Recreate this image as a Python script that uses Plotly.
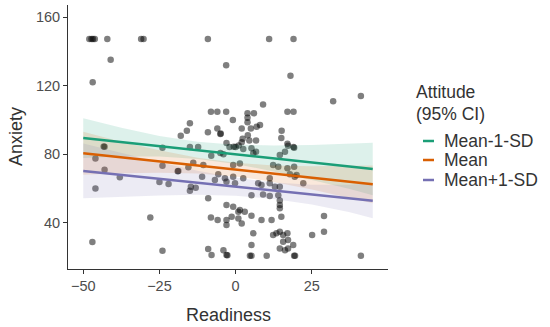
import plotly.graph_objects as go

# ---------------- data ----------------
readiness = [
    -48, -47.3, -46.8, -46.2, -42.1, -31, -30.2, -9.1, 11, 19,
    -41, -3.1, 18, -46.9, 41.1, 32, 9,
    -8.1, -6, -3.1, 17, 19, 3.9, 6, 3.9, 3.9, -0.9, -15, 8, 6.9,
    -16, -9.1, -6, -4.9, 2, 5, 15.1, -18, -5, 4, 15, 2.3, 4.5, 6.7, 17, 19,
    -3, -2, 0, 1, 2, -15, -12.3, -43, -43.3, -24,
    -0.6, 2.5, 5.2, 5.8, 6.7, 14.5, 16.2, 17.2, 19.2,
    -8, -5, -4, -46, -13.9, -10.6, -18.8, -15.5, -24, -0.8, 1.4, 12.3, 14, 17, 19.2,
    -43, -19, -38, -11, -5.7, -6.8, -3.5, -3, -0.8, 2.5, -0.2, 7.4, 8.5, 11.2, 11.2,
    12.9, 14.5, 17.8, 19.4, 22.2, 20,
    -25, -22, -46, -14.7, -13.1, -15,
    -9, 5.2, 9, 11.2, 14, 14.5, -3, -0.8, 14.5, 14.5, 1.4, 3, 0.9, 5.2, 15, -28,
    -8.1, -5.9, -3, -3, -1.3, 0.9, 2, 8.5, 11.8, 29,
    5.8, 13.4, 14.5, 15.6, 12.3, 17, 29, 25.1, 15.6, 17.2, -47, 5.2, 18.9,
    14.5, 17.2, 16.2, -24, -9, -4, -7.9, -3, -2.7, 4.7, 5.2, 10.2, 19.2, 19.5, 41.1,
]
anxiety = [
    147.2, 147.2, 147.2, 147.2, 147.2, 147.2, 147.2, 147.2, 147.2, 147.2,
    135, 131.8, 125.8, 121.9, 113.9, 110.8, 109,
    104.8, 104.8, 104.8, 104.8, 104.8, 103.8, 103.8, 101.3, 98.6, 99.9, 98, 97, 96,
    93.7, 92.7, 95, 92.1, 95, 95, 93.7, 90.8, 91.7, 91, 89.4, 89, 88, 88, 86, 84.2,
    86.5, 84.2, 84.2, 85, 87, 84.2, 84.2, 84.3, 84.5, 83.8,
    84.3, 83, 83.4, 80.5, 81.4, 79.5, 81.4, 84.9, 83.8,
    79, 80.6, 80, 77.5, 75, 73.6, 70.2, 72.3, 73.2, 73.6, 74.6, 73.6, 72.7, 71.7, 72.7,
    70.9, 70, 66.5, 66.8, 68.2, 64.9, 65.9, 63.9, 66.8, 65.9, 63, 63, 62, 65.9, 63,
    61, 61, 68.2, 66.8, 63, 67.8,
    63.7, 62.6, 60, 61, 60.4, 58.7,
    54.2, 56, 56.5, 55.6, 56, 53, 50.3, 49.3, 50.3, 48.4, 47.4, 46.4, 46.4, 44, 43.5, 43,
    43, 41.6, 41.6, 38.7, 43.5, 42.5, 39.6, 41.6, 41.6, 43.9,
    33.8, 33.8, 34.7, 32.8, 32.8, 33.8, 34.7, 32.8, 28.9, 29.9, 28.7, 27, 27,
    25, 25, 24, 23.7, 24.6, 24, 21.1, 21.1, 21, 20.7, 20.7, 20.7, 20.7, 20.8, 20.7,
]

groups = ["Mean-1-SD", "Mean", "Mean+1-SD"]
line_x = [-50, 45]
line_y = {
    "Mean-1-SD": [89.4, 71.3],
    "Mean": [80.5, 62.4],
    "Mean+1-SD": [70.2, 52.8],
}
band_x = [-50, -37.5, -25, -12.5, 0, 12.5, 25, 37.5, 45]
band_upper = {
    "Mean-1-SD": [101.0, 95.4, 90.6, 87.2, 85.5, 85.1, 85.3, 86.0, 86.6],
    "Mean": [93.0, 87.3, 82.2, 77.9, 75.0, 73.4, 73.0, 73.1, 73.4],
    "Mean+1-SD": [86.2, 80.7, 75.3, 70.3, 66.3, 63.5, 62.2, 62.1, 63.0],
}
band_lower = {
    "Mean-1-SD": [77.8, 78.6, 78.6, 77.2, 74.3, 69.9, 64.9, 59.6, 56.0],
    "Mean": [68.0, 68.9, 69.2, 68.7, 67.0, 63.8, 59.4, 54.5, 51.4],
    "Mean+1-SD": [54.2, 55.1, 55.9, 56.3, 55.7, 53.9, 50.6, 46.1, 42.6],
}
colors = {"Mean-1-SD": "#1B9E77", "Mean": "#D95F02", "Mean+1-SD": "#7570B3"}
band_fill = {
    "Mean-1-SD": "rgba(27,158,119,0.15)",
    "Mean": "rgba(217,95,2,0.14)",
    "Mean+1-SD": "rgba(117,112,179,0.14)",
}
x_ticks = [-50, -25, 0, 25]
y_ticks = [40, 80, 120, 160]

# ---------------- figure ----------------
W, H = 550, 327
ML, MR, MT, MB = 68, 162, 5, 58
PW, PH = W - ML - MR, H - MT - MB


def px_x(p):
    return (p - ML) / PW


def px_y(p):
    return (H - MB - p) / PH


fig = go.Figure()

fig.add_trace(go.Scatter(
    x=readiness, y=anxiety, mode="markers",
    marker=dict(size=6.5, color="rgba(0,0,0,0.5)", line=dict(width=0)),
    showlegend=False, hoverinfo="skip",
))

for g in groups:
    fig.add_trace(go.Scatter(
        x=band_x + band_x[::-1],
        y=band_upper[g] + band_lower[g][::-1],
        fill="toself", fillcolor=band_fill[g], line=dict(width=0),
        mode="lines", showlegend=False, hoverinfo="skip",
    ))

for g in groups:
    fig.add_trace(go.Scatter(
        x=line_x, y=line_y[g], mode="lines",
        line=dict(color=colors[g], width=2.5),
        showlegend=False, hoverinfo="skip",
    ))

FAM = "Liberation Sans, Arial, sans-serif"
tick_font = dict(family=FAM, size=14.5, color="#4d4d4d")
title_font = dict(family=FAM, size=18, color="#333333")

fig.update_xaxes(
    range=[-55, 50], tickvals=x_ticks, showgrid=False, zeroline=False,
    showline=True, linecolor="#333333", linewidth=1, ticks="outside",
    ticklen=4, tickcolor="#333333", tickfont=tick_font, automargin=False,
)
fig.update_yaxes(
    range=[13, 167], tickvals=y_ticks, showgrid=False, zeroline=False,
    showline=True, linecolor="#333333", linewidth=1, ticks="outside",
    ticklen=4, tickcolor="#333333", tickfont=tick_font, automargin=False,
)

annos = [
    dict(text="Readiness", x=px_x(228), y=px_y(315), xanchor="center",
         yanchor="middle", font=title_font),
    dict(text="Anxiety", x=px_x(16), y=px_y(137), xanchor="center",
         yanchor="middle", textangle=-90, font=title_font),
]

# manual legend (ggplot-style)
leg_font = dict(family=FAM, size=17.5, color="#333333")
annos += [
    dict(text="Attitude", x=px_x(414), y=px_y(92), xanchor="left",
         yanchor="middle", font=leg_font),
    dict(text="(95% CI)", x=px_x(414), y=px_y(114), xanchor="left",
         yanchor="middle", font=leg_font),
]
key_y = {"Mean-1-SD": 141, "Mean": 160, "Mean+1-SD": 180}
shapes = []
for g in groups:
    annos.append(dict(text=g, x=px_x(442), y=px_y(key_y[g]), xanchor="left",
                      yanchor="middle", font=leg_font))
    shapes.append(dict(
        type="line", xref="paper", yref="paper",
        x0=px_x(423), x1=px_x(434), y0=px_y(key_y[g]), y1=px_y(key_y[g]),
        line=dict(color=colors[g], width=2.5),
    ))
for a in annos:
    a.update(xref="paper", yref="paper", showarrow=False)

fig.update_layout(
    width=W, height=H,
    margin=dict(l=ML, r=MR, t=MT, b=MB),
    paper_bgcolor="white", plot_bgcolor="white",
    showlegend=False, annotations=annos, shapes=shapes,
)

fig.write_html(
    "out.html",
    config={"displayModeBar": False},
    post_script="document.body.style.margin='0';document.body.style.overflow='hidden';",
)
